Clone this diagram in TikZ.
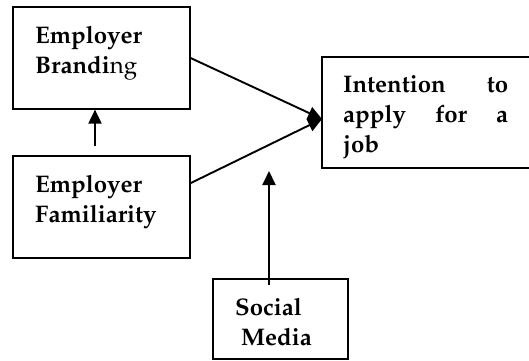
\documentclass[tikz,border=0pt]{standalone}
\usepackage[T1]{fontenc}
\usepackage{mathpazo}
\usetikzlibrary{arrows.meta}
\tikzstyle{arrow} = [line width=1.9pt,-{Triangle[length=14pt,width=13pt]}]
\tikzstyle{box} = [draw,line width=1.2pt,rectangle]
\tikzstyle{boxtext} = [inner sep=0pt,align=left,font=\fontsize{24}{30}\selectfont\bfseries]

\begin{document}
\begin{tikzpicture}[x=1pt,y=1pt]
\useasboundingbox (0,0) rectangle (529,360);

\node (brand) [box,minimum width=177pt,minimum height=102pt] at (101.5,302) {};
\node (fam) [box,minimum width=177pt,minimum height=102pt] at (101.5,153) {};
\node (intent) [box,minimum width=220pt,minimum height=111pt] at (432,247.5) {};
\node (media) [box,minimum width=135pt,minimum height=80pt] at (280.5,41) {};

% base anchor sits on the last line here
\node (brandtxt) [boxtext,anchor=base west] at (35,287) {Employer\\Brandi\textmd{ng}};
\node (famtxt) [boxtext,anchor=base west] at (35,138) {Employer\\Familiarity};
\node (intenttxt) [boxtext,anchor=base west,text width=165pt] at (343,268) {Intention\hfill to\\apply\hfill for\hfill a\\job};
\node (mediatxt) [boxtext,anchor=base west] at (235,15) {Social\\\hspace*{6pt}Media};

\coordinate (meet) at (322,241);
\coordinate (mediatip) at (269,189);
\draw [arrow] (brand.east) -- (meet);
\draw [arrow] (fam.15) -- (meet);
\draw [arrow,shorten <=9pt] ([xshift=-6.5pt]fam.north) -- ([xshift=-6.5pt]brand.south);
\draw [arrow,shorten <=-7pt] ([xshift=-11.5pt]media.north) -- (mediatip);

\end{tikzpicture}
\end{document}
